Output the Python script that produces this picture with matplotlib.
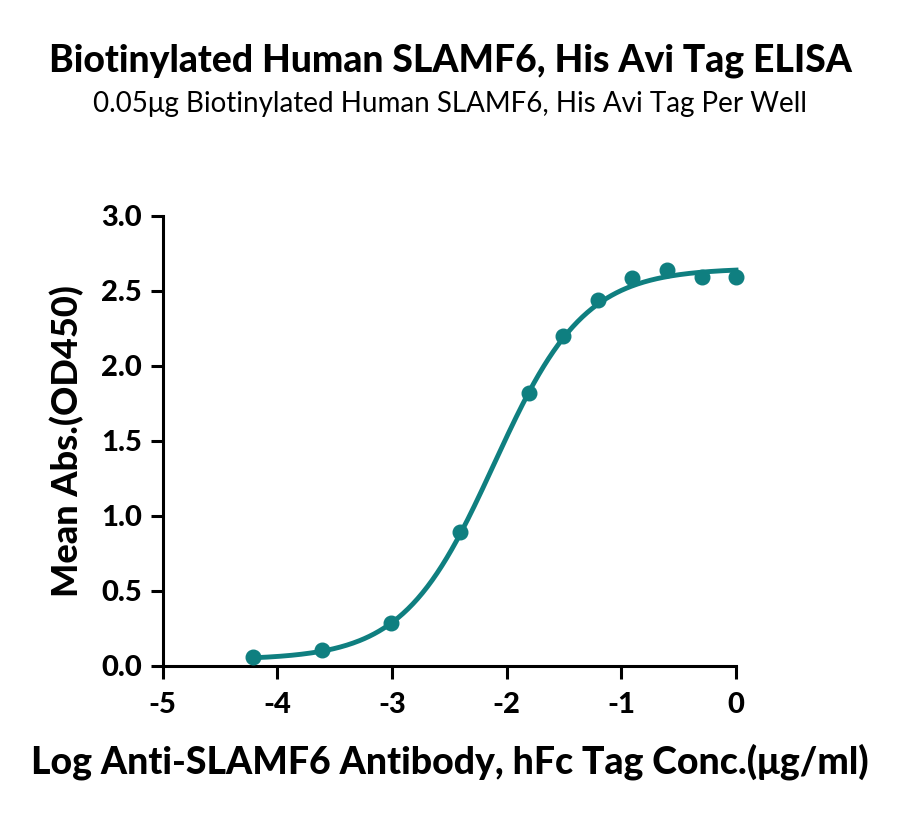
import numpy as np
import matplotlib
matplotlib.use("Agg")
import matplotlib.pyplot as plt

# 2-fold dilutions, log10 scale
log_conc = [-4.214, -3.612, -3.010, -2.408, -1.806, -1.505, -1.204, -0.903, -0.602, -0.301, 0.0]
mean_abs = [0.058, 0.105, 0.283, 0.893, 1.816, 2.198, 2.438, 2.583, 2.638, 2.593, 2.593]

# 4PL fit parameters
fit_bottom = 0.04
fit_top = 2.65
fit_logec50 = -2.11
fit_hill = 1.1

teal = "#0f7f80"
plt.rcParams["font.family"] = ["Lato", "DejaVu Sans"]

fig = plt.figure(figsize=(9, 8.15), dpi=100)
ax = fig.add_axes([0.1808, 0.1832, 0.8178 - 0.1808, 0.7353 - 0.1832])

xs = np.linspace(min(log_conc), max(log_conc), 300)
ys = fit_bottom + (fit_top - fit_bottom) / (1 + 10 ** ((fit_logec50 - xs) * fit_hill))
ax.plot(xs, ys, color=teal, lw=3.5, clip_on=False, zorder=3)
ax.plot(log_conc, mean_abs, "o", color=teal, ms=10.5, clip_on=False, zorder=4)

ax.set_xlim(-5, 0)
ax.set_ylim(0, 3)
ax.set_xticks([-5, -4, -3, -2, -1, 0])
ax.set_xticklabels(["-5", "-4", "-3", "-2", "-1", "0"])
ax.set_yticks([0, 0.5, 1.0, 1.5, 2.0, 2.5, 3.0])
ax.set_yticklabels(["0.0", "0.5", "1.0", "1.5", "2.0", "2.5", "3.0"])
for s in ["top", "right"]:
    ax.spines[s].set_visible(False)
for s in ["left", "bottom"]:
    ax.spines[s].set_linewidth(2.2)
ax.tick_params(width=2.2, length=9, labelsize=21)
ax.tick_params(axis="x", pad=10)
ax.tick_params(axis="y", pad=6)
for lab in ax.get_xticklabels() + ax.get_yticklabels():
    lab.set_fontweight(900)

ax.set_xlabel("Log Anti-SLAMF6 Antibody, hFc Tag Conc.(\u03bcg/ml)", fontsize=26.9, fontweight=900, labelpad=18)
ax.set_ylabel("Mean Abs.(OD450)", fontsize=26, fontweight=900, labelpad=12)

fig.text(0.5, 0.926, "Biotinylated Human SLAMF6, His Avi Tag ELISA", ha="center", va="center",
         fontsize=26.8, fontweight=900)
fig.text(0.5, 0.873, "0.05\u03bcg Biotinylated Human SLAMF6, His Avi Tag Per Well", ha="center", va="center",
         fontsize=20, fontweight="normal")

fig.savefig("out.png", dpi=100)
